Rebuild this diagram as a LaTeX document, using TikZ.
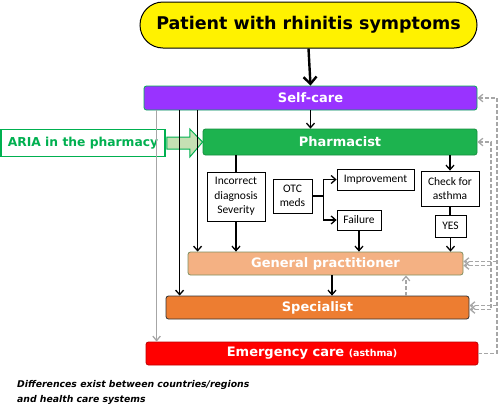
\documentclass[tikz,border=0pt]{standalone}
\usepackage{fontspec}
\setmainfont{DejaVu Sans}
\newfontfamily\calibfont{Carlito}
\usetikzlibrary{arrows.meta,calc,positioning}
\definecolor{selfpurple}{HTML}{9933FF}
\definecolor{pharmgreen}{HTML}{1DB34F}
\definecolor{ariagreen}{HTML}{00B050}
\definecolor{gpfill}{HTML}{F4B183}
\definecolor{gpline}{HTML}{7F8F5F}
\definecolor{specfill}{HTML}{ED7D31}
\definecolor{emergred}{HTML}{FF0000}
\definecolor{dashgray}{HTML}{A6A6A6}
\definecolor{arrowfill}{HTML}{C5E0B4}

\begin{document}
\begin{tikzpicture}[x=1pt,y=-1pt,
  care/.style={rounded corners=2.5pt, inner sep=0pt, line width=0.8pt, text=white,
    font=\bfseries\fontsize{13}{15}\selectfont},
  small/.style={draw, fill=white, inner sep=0pt, align=center, line width=0.8pt,
    font=\calibfont\fontsize{11.5}{14.5}\selectfont},
  arr/.style={-{Straight Barb[length=4.5pt,width=8pt]}, line width=1.3pt},
  grayarr/.style={dashgray, line width=1.3pt, -{Straight Barb[length=4.5pt,width=7.5pt]}},
  dasharr/.style={grayarr, dash pattern=on 4pt off 2pt},
  ]
  \useasboundingbox (0,0) rectangle (500,408);

  %% patient and the care levels
  \node[draw, line width=1pt, fill=yellow, rounded corners=23pt, minimum width=337pt,
    minimum height=46pt, font=\bfseries\fontsize{17.5}{20}\selectfont] (patient) at (308.5,25) {Patient with rhinitis symptoms};
  \node[care, fill=selfpurple, draw=ariagreen, minimum width=333pt, minimum height=24pt] (self) at (310.5,98) {Self-care};
  \node[care, fill=pharmgreen, draw=pharmgreen!80!black, minimum width=274pt, minimum height=26pt] (pharm) at (340,142) {Pharmacist};
  \node[care, fill=gpfill, draw=gpline, minimum width=275pt, minimum height=23pt] (gp) at (325.5,263.5) {General practitioner};
  \node[care, fill=specfill, draw=black!80, minimum width=303pt, minimum height=23pt] (spec) at (317.5,307.5) {Specialist};
  \node[care, fill=emergred, draw=red!75!black, minimum width=332pt, minimum height=23pt] (emerg) at (312,353.5)
    {Emergency care {\fontsize{9.5}{11}\selectfont(asthma)}};

  %% ARIA box and its block arrow
  \node[draw=ariagreen, line width=1.6pt, fill=white, text=ariagreen, inner sep=0pt, minimum width=164pt,
    minimum height=27pt, font=\bfseries\fontsize{12.3}{14}\selectfont] (aria) at (83,143) {ARIA in the pharmacy};
  \draw[ariagreen, fill=arrowfill, line width=1pt] ($(aria.east)+(1,-6)$) -- ++(23,0) -- ++(0,-8)
    -- (pharm.west) -- ($(aria.east)+(24,14)$) -- ++(0,-8) -- ($(aria.east)+(1,6)$) -- cycle;

  %% pharmacy outcomes
  \node[small, minimum width=58pt, minimum height=49pt] (incorr) at (236,196.5) {Incorrect\\diagnosis\\Severity};
  \node[small, minimum width=39pt, minimum height=34pt] (otc) at (292.5,196) {OTC\\meds};
  \node[small, minimum width=77pt, minimum height=21pt] (impr) at (375.5,179.5) {Improvement};
  \node[small, minimum width=44pt, minimum height=20pt] (fail) at (359,220) {Failure};
  \node[small, minimum width=58pt, minimum height=35pt] (check) at (450,188.5) {Check for\\asthma};
  \node[small, minimum width=31pt, minimum height=22pt] (yes) at (450.5,226) {YES};

  %% black connectors
  \draw[arr, line width=2.4pt, -{Straight Barb[length=7pt,width=13pt]}] (patient.south) -- (self.north);
  \draw[arr] (self.south) -- (self.south |- pharm.north);
  \draw[arr] ($(self.south west)+(54,0)$) coordinate (s1) -- (s1 |- gp.north);
  \draw[arr] ($(self.south west)+(36,0)$) coordinate (s2) -- (s2 |- spec.north);
  \draw[line width=1.3pt] (incorr.north |- pharm.south) -- (incorr.north);
  \draw[arr] (incorr.south) -- (incorr.south |- gp.north);
  \draw[line width=1.3pt] (otc.east) -- ++(11,0) coordinate (j);
  \draw[arr] (j) |- (impr.west);
  \draw[arr] (j) |- (fail.west);
  \draw[arr] (fail.south) -- (fail.south |- gp.north);
  \draw[arr] (check.north |- pharm.south) -- (check.north);
  \draw[line width=1.3pt] (check.south) -- (check.south |- yes.north);
  \draw[arr] (yes.south) -- (yes.south |- gp.north);
  \draw[arr] ($(gp.south)+(6.5,0)$) coordinate (g1) -- (g1 |- spec.north);

  %% gray connectors
  \draw[grayarr] ($(self.south west)+(13,0)$) coordinate (s3) -- (s3 |- emerg.north);
  \draw[dasharr] ($(spec.north)+(88.5,0)$) coordinate (g2) -- (g2 |- gp.south);
  \coordinate (rx) at (497,0);
  \coordinate (ix) at (491,0);
  \draw[dasharr] (emerg.east) -| (self.east -| rx) -- (self.east);
  \draw[dasharr] (ix |- spec.east) -- (ix |- pharm.east) -- (pharm.east);
  \draw[dasharr] ($(gp.east -| rx)+(0,-2)$) -- ($(gp.east)+(0,-2)$);
  \draw[dasharr] ($(gp.east -| ix)+(0,2)$) -- ($(gp.east)+(0,2)$);
  \draw[dasharr] ($(spec.east -| rx)+(0,-2)$) -- ($(spec.east)+(0,-2)$);
  \draw[dasharr] ($(spec.east -| ix)+(0,2)$) -- ($(spec.east)+(0,2)$);

  \node[anchor=base west, align=left, inner sep=0pt, font=\bfseries\itshape\fontsize{9.3}{15}\selectfont] (note) at (17,402)
    {Differences exist between countries/regions\\and health care systems};
\end{tikzpicture}
\end{document}
